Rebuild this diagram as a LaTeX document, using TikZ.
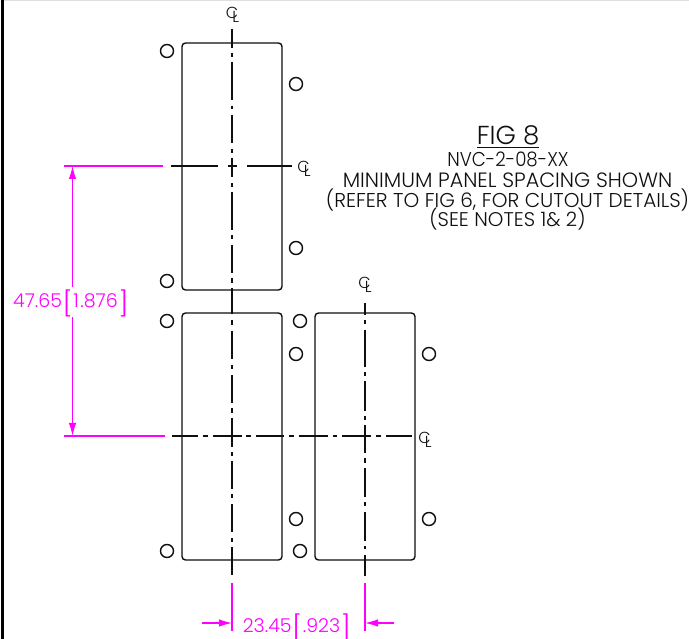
\documentclass[tikz,border=0pt]{standalone}
\usepackage{fontspec}
\setmainfont{Poppins}[UprightFont=* Light]
\usetikzlibrary{arrows.meta}
\definecolor{dimcol}{RGB}{255,0,255}
\definecolor{ink}{RGB}{15,15,15}
\newcommand{\tallL}{\kern0.3pt\raisebox{-4.2pt}[0pt][0pt]{\scalebox{1.5}[1.28]{[}}\kern0.5pt}
\newcommand{\tallR}{\kern0.5pt\raisebox{-4.2pt}[0pt][0pt]{\scalebox{1.5}[1.28]{]}}}
\newcommand{\clsym}{\raisebox{4pt}{C}\kern-6pt L}
\tikzset{
  panel/.style={draw=ink,line width=1.4pt,rounded corners=3.5pt,minimum width=100pt,minimum height=247pt,inner sep=0pt,outer sep=0pt},
  hole/.style={draw=ink,line width=1.4pt,circle,minimum size=13pt,inner sep=0pt,outer sep=0pt},
  cline/.style={ink,line width=1.1pt},
  dimline/.style={dimcol,line width=1.2pt},
  dimarrow/.style={dimcol,line width=1.2pt,-{Latex[length=13pt,width=7.5pt]}},
  dimtext/.style={dimcol,anchor=base,inner sep=0pt,font=\fontsize{19}{19}\selectfont},
  clmark/.style={ink,anchor=base,inner sep=0pt,font=\fontsize{16}{16}\selectfont},
  title/.style={ink,anchor=base,inner sep=0pt}
}
\begin{document}
\begin{tikzpicture}[x=1pt,y=-1pt]
\useasboundingbox (0,0) rectangle (689,639);
\fill[white] (0,0) rectangle (689,639);
% sheet border
\fill[black] (0.6,0) rectangle (3.5,639);
\fill[black!13] (3.5,0) rectangle (689,1);
% panels
\node[panel] (p1) at (232,166.5) {};
\node[panel] (p2) at (232,436.5) {};
\node[panel] (p3) at (365,436.5) {};
% holes
\node[hole] (h1) at (167,51) {};
\node[hole] (h2) at (296,84) {};
\node[hole] (h3) at (296,248) {};
\node[hole] (h4) at (167,281) {};
\node[hole] (h5) at (167,321) {};
\node[hole] (h6) at (300,321) {};
\node[hole] (h7) at (296,354) {};
\node[hole] (h8) at (296,519) {};
\node[hole] (h9) at (300,551) {};
\node[hole] (h10) at (167,551) {};
\node[hole] (h11) at (429,354) {};
\node[hole] (h12) at (429,519) {};
% centre lines
\foreach \a/\b in {29/48,53/57,62/100,106/109,115/143,149/153,158/177,183/187,192/230,235/239,245/273,278/283,288/314,320/325,331/359,365/369,375/403,408/413,418/447,452/456,461/489,494/498,504/532,538/542,547/575}
  \draw[cline] (232,\a) -- (232,\b);
\foreach \a/\b in {303/315,320/324,330/367,372/376,381/411,416/420,425/453,458/463,468/497,502/506,512/541,546/549,555/576}
  \draw[cline] (365,\a) -- (365,\b);
\foreach \a/\b in {171/218,228/237,247/292}
  \draw[cline] (\a,166) -- (\b,166);
\foreach \a/\b in {172/198,203/208,213/242,246/251,256/284,289/294,299/328,333/337,342/371,376/381,386/412}
  \draw[cline] (\a,436) -- (\b,436);
% centre line marks
\node[clmark] (cl1) at (232.5,23) {\clsym};
\node[clmark] (cl2) at (304,177) {\clsym};
\node[clmark] (cl3) at (365,293) {\clsym};
\node[clmark] (cl4) at (425,447) {\clsym};
% title
\node[title,font=\fontsize{26}{26}\selectfont] (t0) at (508,145) {FIG 8};
\draw[ink,line width=1pt] (477,147.5) -- (539,147.5);
\node[title,font=\fontsize{20}{20}\selectfont] (t1) at (508,167) {\scalebox{.91}[1]{NVC-2-08-XX}};
\node[title,font=\fontsize{20.7}{20.7}\selectfont] (t2) at (507.5,188) {MINIMUM PANEL SPACING SHOWN};
\node[title,font=\fontsize{20}{20}\selectfont] (t3) at (507.5,208) {(REFER TO FIG 6, FOR CUTOUT DETAILS)};
\node[title,font=\fontsize{19.8}{19.8}\selectfont] (t4) at (507.5,227) {(SEE NOTES 1\& 2)};
% vertical dimension
\coordinate (e1a) at (64,166); \coordinate (e1b) at (163,166);
\coordinate (e2a) at (64,436); \coordinate (e2b) at (165,436);
\draw[dimline] (e1a) -- (e1b);
\draw[dimline] (e2a) -- (e2b);
\node[dimtext] (d1) at (71,308) {47.65\tallL 1\kern1.5pt.876\tallR};
\coordinate (v1a) at (72.5,287); \coordinate (v1b) at (72.5,166);
\coordinate (v2a) at (72.5,317); \coordinate (v2b) at (72.5,436);
\draw[dimarrow] (v1a) -- (v1b);
\draw[dimarrow] (v2a) -- (v2b);
% horizontal dimension
\coordinate (e3a) at (232,583); \coordinate (e3b) at (232,631);
\coordinate (e4a) at (365,583); \coordinate (e4b) at (365,631);
\draw[dimline] (e3a) -- (e3b);
\draw[dimline] (e4a) -- (e4b);
\node[dimtext] (d2) at (297,632) {23.45\tallL .923\tallR};
\coordinate (a1a) at (202,623); \coordinate (a1b) at (232,623);
\coordinate (a2a) at (394,623); \coordinate (a2b) at (365,623);
\draw[dimarrow] (a1a) -- (a1b);
\draw[dimarrow] (a2a) -- (a2b);
\end{tikzpicture}
\end{document}
